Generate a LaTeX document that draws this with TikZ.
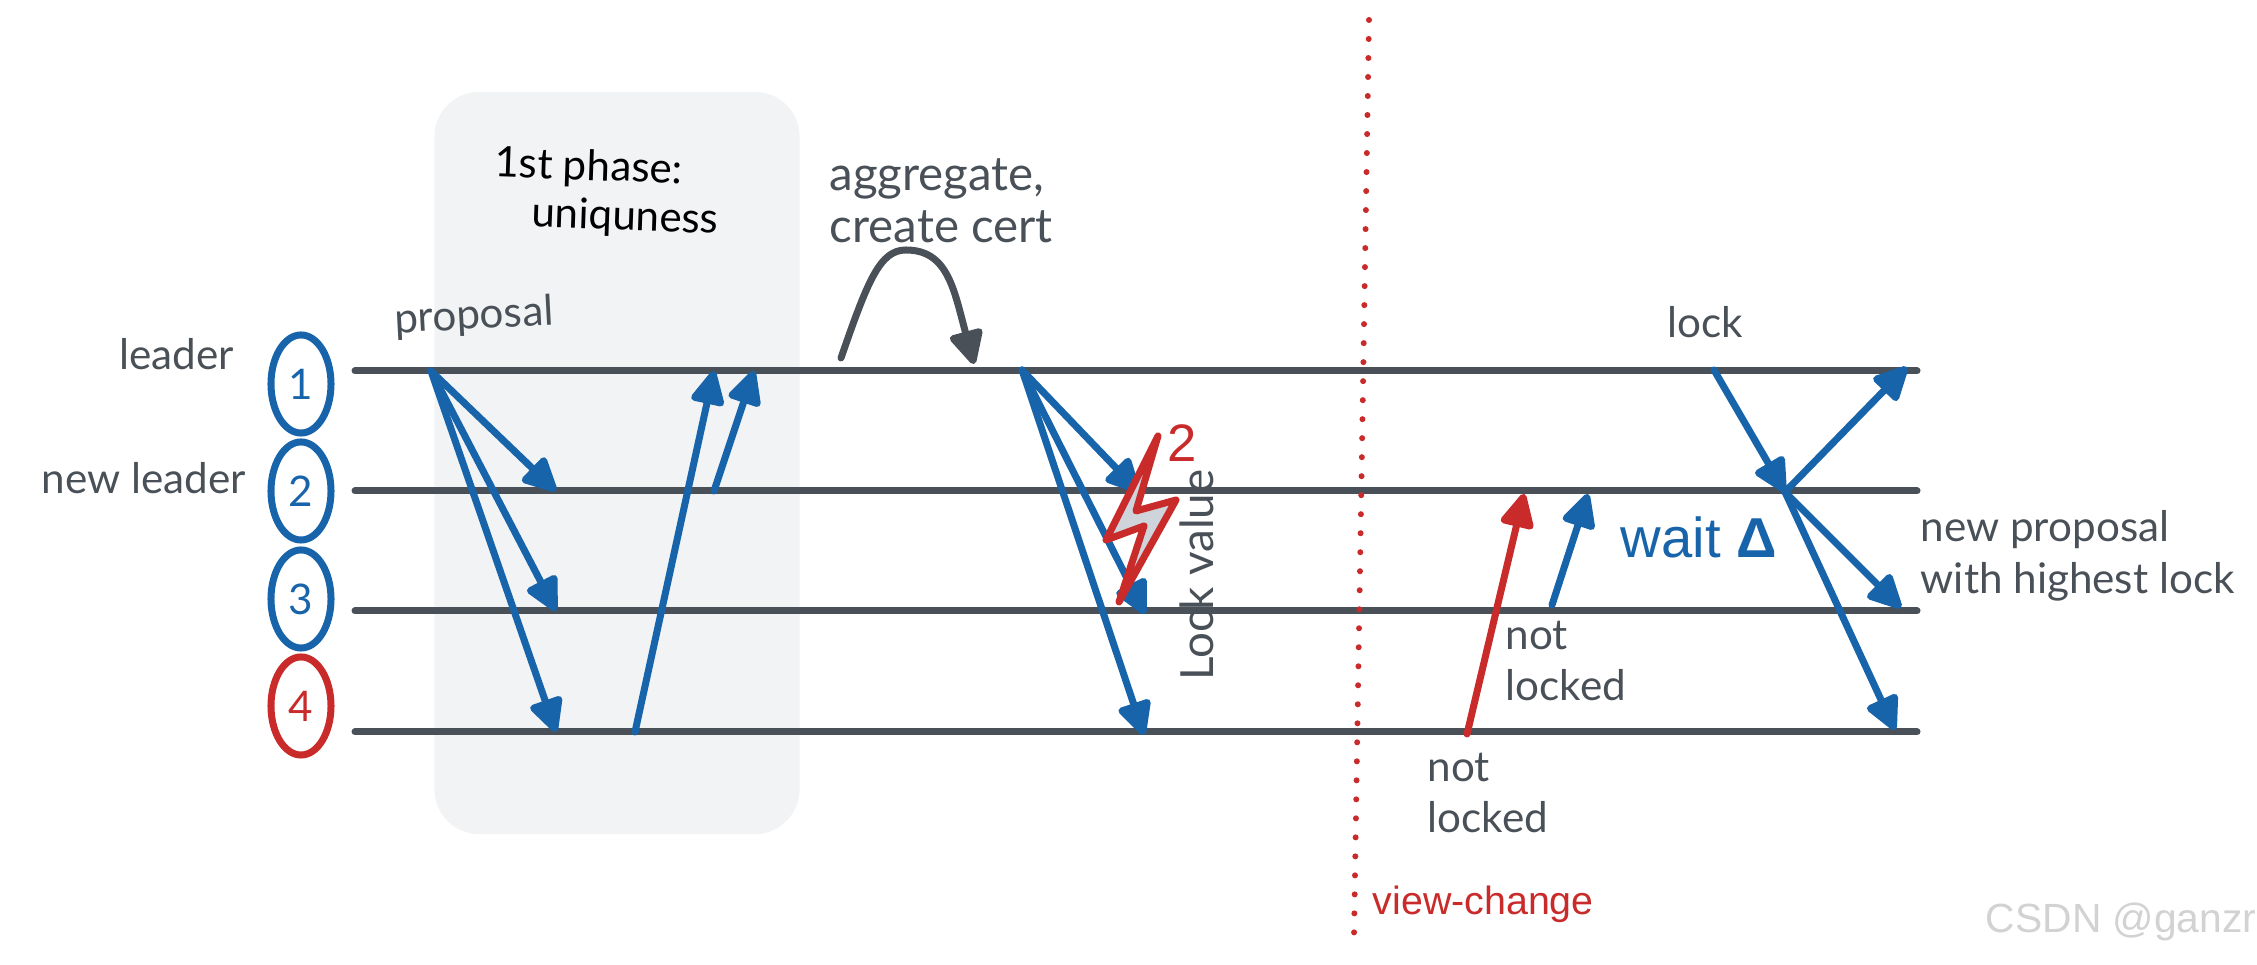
\documentclass[tikz,border=0pt]{standalone}
\usepackage{fontspec}
\setmainfont{Liberation Sans}
\newfontfamily\handfont{Lato}
\usepackage{xcolor}
\usetikzlibrary{arrows.meta,shapes.geometric}
\definecolor{inkgray}{HTML}{495057}
\definecolor{inkblue}{HTML}{1864AB}
\definecolor{inkred}{HTML}{C92A2A}
\definecolor{phasefill}{HTML}{F1F3F5}
\definecolor{boltfill}{HTML}{CED4DA}

\begin{document}
\begin{tikzpicture}[
  x=0.01cm, y=-0.01cm,
  hand/.style={font=\handfont\fontsize{12}{14.7}\selectfont, text=inkgray, align=left, inner sep=0pt},
  bighand/.style={hand, font=\handfont\fontsize{13.5}{14.7}\selectfont},
  replica/.style={draw=inkblue, ellipse, line width=0.07cm, minimum width=0.6cm, minimum height=0.98cm, inner sep=0pt, text=inkblue, font=\handfont\fontsize{12}{14}\selectfont},
  track/.style={draw=inkgray, line width=0.07cm, line cap=round},
  arr/.style={-{Triangle[length=3.8mm,width=3.6mm,round]}, draw=inkblue, line width=0.07cm, line cap=round},
  redarr/.style={arr, draw=inkred}]
\useasboundingbox (0,0) rectangle (2257,965);

% 1st phase background
\node[draw=none, fill=phasefill, rounded corners=0.45cm, minimum width=3.65cm, minimum height=7.42cm, inner sep=0pt] (phase) at (617,463) {};

% Replicas
\node[replica] (r1) at (301,384) {1};
\node[replica] (r2) at (301,491) {2};
\node[replica] (r3) at (301,599) {3};
\node[replica, draw=inkred, text=inkred] (r4) at (301,706) {4};

% Timelines
\coordinate (a1) at (355,371); \coordinate (b1) at (1917,371);
\coordinate (a2) at (355,491); \coordinate (b2) at (1917,491);
\coordinate (a3) at (355,611); \coordinate (b3) at (1917,611);
\coordinate (a4) at (355,732); \coordinate (b4) at (1917,732);
\draw[track] (a1) -- (b1);
\draw[track] (a2) -- (b2);
\draw[track] (a3) -- (b3);
\draw[track] (a4) -- (b4);

% First round: proposal and votes
\coordinate (prop) at (431,371);
\coordinate (prop2) at (556,491);
\coordinate (prop3) at (556,611);
\coordinate (prop4) at (556,732);
\coordinate (vote4) at (635,732);
\coordinate (vote4e) at (714,371);
\coordinate (vote2) at (714,491);
\coordinate (vote2e) at (754,371);
\draw[arr] (prop) -- (prop2);
\draw[arr] (prop) -- (prop3);
\draw[arr] (prop) -- (prop4);
\draw[arr] (vote4) -- (vote4e);
\draw[arr] (vote2) -- (vote2e);

% Aggregate hop
\coordinate (hop) at (841,358);
\coordinate (hope) at (974,364);
\draw[-{Triangle[length=3.8mm,width=3.6mm,round]}, draw=inkgray, line width=0.07cm, line cap=round]
  (hop) .. controls (868,280) and (880,250) .. (906,250) .. controls (948,250) and (954,290) .. (hope);

% Second round: lock value
\coordinate (lockv) at (1022,370);
\coordinate (lockv2) at (1139,492);
\coordinate (lockv3) at (1145,614);
\coordinate (lockv4) at (1144,735);
\draw[arr] (lockv) -- (lockv2);
\draw[arr] (lockv) -- (lockv3);
\draw[arr] (lockv) -- (lockv4);

% Crash bolt
\draw[draw=inkred, fill=boltfill, line width=0.07cm, line join=round]
  (1158,436) -- (1106,540) -- (1144,526) -- (1119,602) -- (1176,500) -- (1136,511) -- cycle;
\node[text=inkred, font=\fontsize{15}{15}\selectfont, inner sep=0pt] (crash) at (1182,443) {2};
\node[hand, font=\handfont\fontsize{13}{15}\selectfont, rotate=90] (lockval) at (1197,575) {Lock value};

% View change
\coordinate (vtop) at (1369,20);
\coordinate (vbot) at (1354,936);
\draw[draw=inkred, line width=0.06cm, line cap=round, dash pattern=on 0pt off 0.19cm] (vtop) -- (vbot);
\node[text=inkred, font=\fontsize{11.2}{13}\selectfont, anchor=west, inner sep=0pt] (vc) at (1372,904) {view-change};

% After the view change
\coordinate (nl4) at (1467,734);
\coordinate (nl4e) at (1524,494);
\coordinate (nl3) at (1552,605);
\coordinate (nl3e) at (1588,494);
\draw[redarr] (nl4) -- (nl4e);
\draw[arr] (nl3) -- (nl3e);
\node[text=inkblue, font=\fontsize{16}{18}\selectfont, inner sep=0pt] (wait) at (1699,537) {wait {\bfseries Δ}};

\coordinate (lk) at (1714,370);
\coordinate (nx) at (1785,492);
\coordinate (nx1) at (1907,367);
\coordinate (nx3) at (1901,608);
\coordinate (nx4) at (1895,730);
\draw[arr] (lk) -- (nx);
\draw[arr] (nx) -- (nx1);
\draw[arr] (nx) -- (nx3);
\draw[arr] (nx) -- (nx4);

% Labels
\node[hand] (leader) at (177,354) {leader};
\node[hand] (newleader) at (144,478) {new leader};
\node[hand, rotate=3] (proposal) at (474,317) {proposal};
\node[hand, text=black, anchor=west, rotate=-2] (phase1) at (494,165) {1st phase:};
\node[hand, text=black, anchor=west, rotate=-2] (phase2) at (531,215) {uniquness};
\node[bighand, anchor=north west] (aggr) at (829,158) {aggregate,\\create cert};
\node[hand] (lock) at (1705,322) {lock};
\node[hand, anchor=north west] (nprop) at (1920,510) {new proposal\\with highest lock};
\node[hand, anchor=north west] (notl3) at (1505,620) {not\\locked};
\node[hand, anchor=north west] (notl4) at (1427,752) {not\\locked};

% Watermark
\node[text=gray!35, font=\fontsize{11.6}{13}\selectfont, anchor=east, inner sep=0pt] (mark) at (2257,922) {CSDN @ganzr};
\end{tikzpicture}
\end{document}
